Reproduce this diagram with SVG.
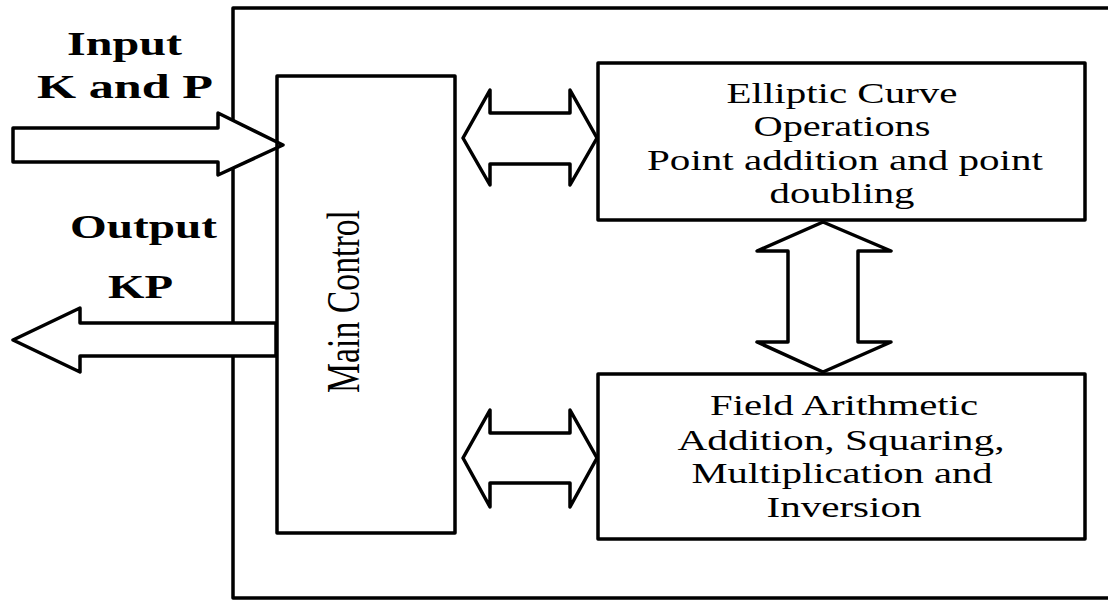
<svg xmlns="http://www.w3.org/2000/svg" width="1108" height="601" viewBox="0 0 1108 601">
<style>
.box{fill:none;stroke:#000;stroke-width:3.5;stroke-linejoin:round}
.arr{fill:#fff;stroke:#000;stroke-width:3.5;stroke-linejoin:round}
.t{font-family:"Liberation Serif","Times New Roman",serif;font-size:30px;fill:#000}
.lb{font-family:"Liberation Serif","Times New Roman",serif;font-size:34px;font-weight:bold;fill:#000}
</style>
<rect width="1108" height="601" fill="#fff"/>
<g id="system">
<rect class="box" x="233" y="8" width="900" height="590"/>
</g>
<g id="connectors">
<polygon id="input-arrow" class="arr" points="13,128 218,128 218,113 283,145 218,175 218,162 13,162"/>
<polygon id="output-arrow" class="arr" points="276,323 80,323 80,308 13,340 80,372 80,356 276,356"/>
<polygon id="ctrl-ec" class="arr" points="463,138 490,90 490,113 570,113 570,90 597,138 570,185 570,164 490,164 490,185"/>
<polygon id="ctrl-fa" class="arr" points="463,458 490,410 490,433 570,433 570,410 597,458 570,507 570,483 490,483 490,507"/>
<polygon id="ec-fa" class="arr" points="823,222 891,251 858,251 858,342 891,342 823,372 757,342 788,342 788,251 757,251"/>
</g>
<g id="labels">
<text class="lb" x="67" y="55" textLength="115" lengthAdjust="spacingAndGlyphs">Input</text>
<text class="lb" x="37" y="98" textLength="176" lengthAdjust="spacingAndGlyphs">K and P</text>
<text class="lb" x="70" y="238" textLength="147" lengthAdjust="spacingAndGlyphs">Output</text>
<text class="lb" x="108" y="298" textLength="65" lengthAdjust="spacingAndGlyphs">KP</text>
</g>
<g id="main-control">
<rect class="box" x="277" y="76" width="178" height="457"/>
<text class="t" style="font-size:34px" transform="translate(359,393) scale(1.38,1) rotate(-90)" x="0" y="0" textLength="183" lengthAdjust="spacingAndGlyphs">Main Control</text>
</g>
<g id="elliptic-curve">
<rect class="box" x="598" y="63" width="487" height="157"/>
<text class="t" x="842" y="103" text-anchor="middle" textLength="231" lengthAdjust="spacingAndGlyphs">Elliptic Curve</text>
<text class="t" x="842" y="136" text-anchor="middle" textLength="177" lengthAdjust="spacingAndGlyphs">Operations</text>
<text class="t" x="845" y="170" text-anchor="middle" textLength="396" lengthAdjust="spacingAndGlyphs">Point addition and point</text>
<text class="t" x="842" y="203" text-anchor="middle" textLength="145" lengthAdjust="spacingAndGlyphs">doubling</text>
</g>
<g id="field-arithmetic">
<rect class="box" x="598" y="374" width="487" height="165"/>
<text class="t" x="844" y="415" text-anchor="middle" textLength="268" lengthAdjust="spacingAndGlyphs">Field Arithmetic</text>
<text class="t" x="841" y="450" text-anchor="middle" textLength="327" lengthAdjust="spacingAndGlyphs">Addition, Squaring,</text>
<text class="t" x="842" y="483" text-anchor="middle" textLength="301" lengthAdjust="spacingAndGlyphs">Multiplication and</text>
<text class="t" x="844" y="517" text-anchor="middle" textLength="155" lengthAdjust="spacingAndGlyphs">Inversion</text>
</g>
</svg>
